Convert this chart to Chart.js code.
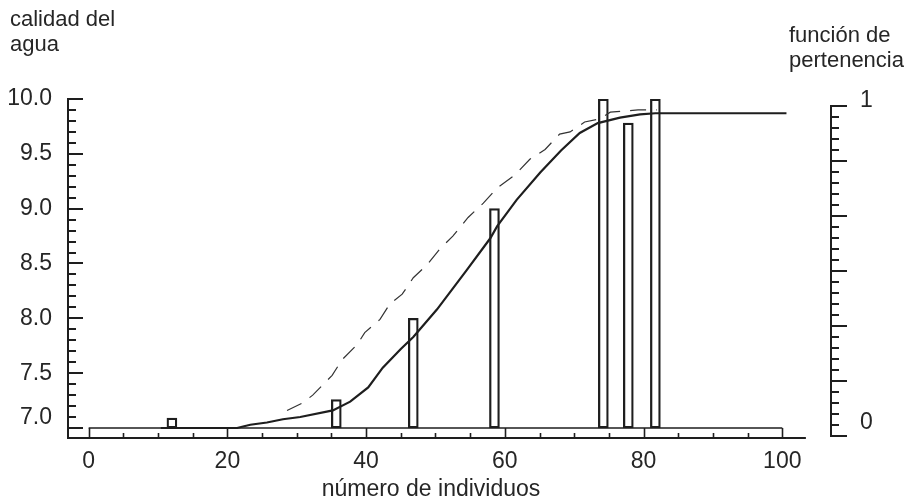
<!DOCTYPE html>
<html><head><meta charset="utf-8">
<script src="https://cdn.jsdelivr.net/npm/chart.js@4/dist/chart.umd.min.js"></script>
<style>
html,body{margin:0;padding:0;background:#fff;}
#wrap{position:relative;width:912px;height:502px;overflow:hidden;background:#fff;}
canvas{position:absolute;left:0;top:0;}
.t{position:absolute;font-family:"Liberation Sans",Arial,sans-serif;color:#262626;font-size:22px;line-height:25px;white-space:nowrap;}
</style></head><body>
<div id="wrap">
<canvas id="c" width="912" height="502"></canvas>
<div class="t" style="left:10px;top:6px">calidad del<br>agua</div>
<div class="t" style="left:789px;top:22px">función de<br>pertenencia</div>
<div class="t" style="left:0;top:476px;width:862px;text-align:center;font-size:23px">número de individuos</div>
</div>
<script>
// ---- data ----
const waterQualityTicks = [7.0, 7.5, 8.0, 8.5, 9.0, 9.5, 10.0];
const membershipTicks = [0, 1];
const xTickLabels = [0, 20, 40, 60, 80, 100];

const barX = [12, 35.7, 46.8, 58.5, 74.2, 77.8, 81.7];
const barY = [7.09, 7.26, 8.0, 9.0, 10.0, 9.78, 10.0];

const solidX = [10.4, 21.4, 23.3, 25.7, 28.0, 30.5, 35.2, 37.7, 40.3, 42.4, 45.0, 46.8, 50.2, 54.5, 57.9, 58.9, 61.7, 65.1, 68.1, 70.8, 73.4, 76.6, 79.5, 81.7, 100.6];
const solidY = [7.00, 7.00, 7.03, 7.05, 7.08, 7.10, 7.16, 7.24, 7.37, 7.55, 7.72, 7.83, 8.08, 8.44, 8.73, 8.84, 9.08, 9.33, 9.53, 9.69, 9.78, 9.83, 9.86, 9.87, 9.87];

const dashedX = [28.6, 30.9, 32.3, 35.1, 36.5, 38.7, 39.8, 42.0, 43.4, 45.2, 46.8, 48.8, 50.6, 52.5, 54.7, 56.9, 58.9, 61.5, 63.6, 65.8, 67.9, 69.4, 71.5, 73.7, 75.2, 77.0, 79.2, 81.9];
const dashedY = [7.16, 7.23, 7.30, 7.48, 7.62, 7.76, 7.87, 7.99, 8.13, 8.22, 8.37, 8.49, 8.63, 8.75, 8.92, 9.05, 9.19, 9.31, 9.45, 9.54, 9.68, 9.70, 9.79, 9.82, 9.88, 9.89, 9.90, 9.90];

const BASE = 7.0;
const INK = '#1e1e1e';
const TXT = '#262626';
const FONT = '"Liberation Sans",Arial,sans-serif';

const pts = (xs, ys) => xs.map((x, i) => ({x: x, y: ys[i]}));

// axis decorations drawn through the chart's own scales
const axisDeco = {
  id: 'axisDeco',
  afterDraw(chart) {
    const ctx = chart.ctx, xs = chart.scales.x, ys = chart.scales.y, y2 = chart.scales.y2;
    const L = chart.chartArea.left, R = chart.chartArea.right, B = chart.chartArea.bottom;
    ctx.save();
    ctx.strokeStyle = INK;
    ctx.lineCap = 'butt';
    ctx.lineWidth = 2;
    // left axis ticks (pointing inward)
    for (let k = 0; k <= 30; k++) {
      const py = Math.round(ys.getPixelForValue(7 + k * 0.1));
      const len = (k % 5 === 0) ? 15 : 8;
      ctx.beginPath(); ctx.moveTo(L, py); ctx.lineTo(L + len, py); ctx.stroke();
    }
    // right axis line + ticks
    const rTop = Math.round(y2.getPixelForValue(1)), rBot = Math.round(y2.getPixelForValue(0));
    ctx.beginPath(); ctx.moveTo(R, rTop - 1); ctx.lineTo(R, rBot + 1); ctx.stroke();
    for (let k = 0; k <= 30; k++) {
      const py = Math.round(y2.getPixelForValue(k / 30));
      const len = (k % 5 === 0) ? 16 : 8;
      ctx.beginPath(); ctx.moveTo(R, py); ctx.lineTo(R + len, py); ctx.stroke();
    }
    // bottom axis line
    ctx.beginPath(); ctx.moveTo(L - 1, B); ctx.lineTo(xs.getPixelForValue(103.4), B); ctx.stroke();
    // strip along the base value
    const sTop = Math.round(ys.getPixelForValue(BASE));
    const x0 = xs.getPixelForValue(0), x100 = xs.getPixelForValue(100);
    ctx.lineWidth = 1.6;
    ctx.beginPath(); ctx.moveTo(x0, sTop); ctx.lineTo(x100, sTop); ctx.stroke();
    for (let v = 0; v <= 100; v += 5) {
      const px = Math.round(xs.getPixelForValue(v)) + 0.5;
      const full = (v % 20 === 0);
      ctx.beginPath(); ctx.moveTo(px, full ? sTop : B - 5); ctx.lineTo(px, B); ctx.stroke();
    }
    ctx.restore();
  }
};

new Chart(document.getElementById('c'), {
  type: 'line',
  data: {
    datasets: [
      {
        type: 'line', label: 'calidad', data: pts(solidX, solidY),
        borderColor: INK, borderWidth: 2.2, pointRadius: 0, tension: 0, fill: false, yAxisID: 'y', order: 1
      },
      {
        type: 'line', label: 'pertenencia', data: pts(dashedX, dashedY),
        borderColor: '#333', borderWidth: 1.2, borderDash: [16, 10], pointRadius: 0, tension: 0, fill: false, yAxisID: 'y', order: 2
      },
      {
        type: 'bar', label: 'individuos', data: barX.map((x, i) => ({x: x, y: [BASE, barY[i]]})),
        backgroundColor: 'rgba(255,255,255,0)', borderColor: INK, borderWidth: 1.6, borderSkipped: false,
        barThickness: 10, grouped: false, yAxisID: 'y', order: 3
      }
    ]
  },
  options: {
    responsive: false, animation: false, devicePixelRatio: 1,
    layout: {padding: {top: 99, left: 0, right: 0, bottom: 0}},
    plugins: {legend: {display: false}, tooltip: {enabled: false}, title: {display: false}},
    scales: {
      x: {
        type: 'linear', position: 'bottom', min: -2.98, max: 107.02, offset: false,
        afterBuildTicks: s => { s.ticks = xTickLabels.map(v => ({value: v})); },
        afterFit: s => { s.height = 64; },
        grid: {display: false, drawTicks: false, offset: false}, border: {display: false},
        ticks: {color: TXT, font: {family: FONT, size: 23}, padding: 10, maxRotation: 0, autoSkip: false, includeBounds: false}
      },
      y: {
        type: 'linear', position: 'left', min: 6.9088, max: 10,
        afterBuildTicks: s => { s.ticks = waterQualityTicks.map(v => ({value: v})); },
        afterFit: s => { s.width = 68; },
        grid: {display: false, drawTicks: false}, border: {display: true, color: INK, width: 2},
        ticks: {
          color: TXT, padding: 16, includeBounds: false, autoSkip: false,
          font: c => ({family: FONT, size: 23, lineHeight: (c.tick && Math.abs(c.tick.value - 7) < 1e-6) ? '20px' : 1.2}),
          callback: v => Math.abs(v - 7) < 1e-6 ? ['7.0', ''] : Number(v).toFixed(1)
        }
      },
      y2: {
        type: 'linear', position: 'right', min: -0.00606, max: 1.02121,
        afterBuildTicks: s => { s.ticks = membershipTicks.map(v => ({value: v})); },
        afterFit: s => { s.width = 81; },
        grid: {display: false, drawTicks: false}, border: {display: false},
        ticks: {
          color: TXT, padding: 29, includeBounds: false, autoSkip: false,
          font: c => ({family: FONT, size: 23, lineHeight: (c.tick && c.tick.value === 0) ? '26px' : '10px'}),
          callback: v => [String(v), '']
        }
      }
    }
  },
  plugins: [axisDeco]
});
</script>
</body></html>
